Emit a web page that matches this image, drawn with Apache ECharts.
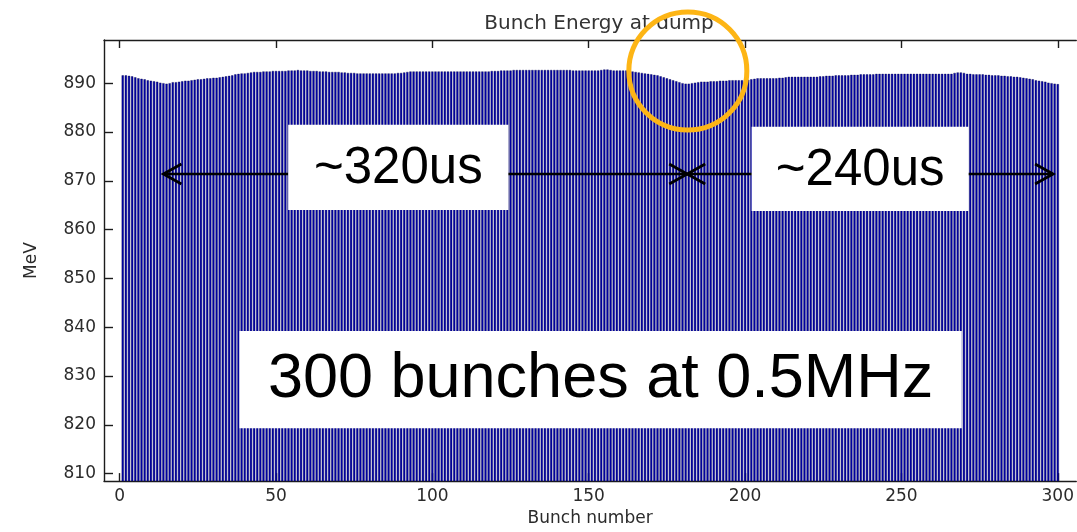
<!DOCTYPE html>
<html>
<head>
<meta charset="utf-8">
<script src="https://cdn.jsdelivr.net/npm/echarts@6/dist/echarts.min.js"></script>
<style>
  html, body { margin: 0; padding: 0; background: #ffffff; }
  #chart { width: 1077px; height: 532px; }
</style>
</head>
<body>
<div id="chart"></div>
<script>
// Bunch energy measured at the dump, one value per bunch (MeV)
const energyMeV = [
  891.6, 891.6, 891.5, 891.4, 891.2, 891.0, 890.9, 890.8, 890.6, 890.5,
  890.4, 890.3, 890.1, 890.0, 889.9, 890.0, 890.2, 890.2, 890.3, 890.4,
  890.5, 890.5, 890.6, 890.7, 890.8, 890.8, 890.9, 891.0, 891.0, 891.1,
  891.1, 891.2, 891.3, 891.4, 891.5, 891.6, 891.8, 891.9, 892.0, 892.0,
  892.1, 892.2, 892.3, 892.3, 892.3, 892.4, 892.4, 892.4, 892.5, 892.5,
  892.5, 892.5, 892.5, 892.6, 892.6, 892.6, 892.7, 892.6, 892.6, 892.6,
  892.5, 892.5, 892.5, 892.4, 892.4, 892.4, 892.3, 892.3, 892.3, 892.3,
  892.2, 892.2, 892.1, 892.1, 892.1, 892.0, 892.0, 892.0, 892.0, 892.0,
  892.0, 892.0, 892.0, 892.0, 892.0, 892.0, 892.0, 892.0, 892.1, 892.1,
  892.2, 892.3, 892.4, 892.4, 892.4, 892.4, 892.4, 892.4, 892.4, 892.4,
  892.4, 892.4, 892.4, 892.4, 892.4, 892.4, 892.4, 892.4, 892.4, 892.4,
  892.4, 892.4, 892.4, 892.4, 892.4, 892.4, 892.4, 892.4, 892.5, 892.5,
  892.5, 892.6, 892.6, 892.6, 892.6, 892.7, 892.7, 892.7, 892.7, 892.7,
  892.7, 892.7, 892.7, 892.7, 892.7, 892.7, 892.7, 892.7, 892.7, 892.7,
  892.7, 892.7, 892.7, 892.7, 892.6, 892.6, 892.6, 892.6, 892.6, 892.6,
  892.6, 892.6, 892.6, 892.7, 892.8, 892.8, 892.7, 892.6, 892.6, 892.6,
  892.6, 892.6, 892.5, 892.4, 892.3, 892.2, 892.1, 892.0, 891.9, 891.8,
  891.7, 891.6, 891.4, 891.2, 891.0, 890.8, 890.6, 890.4, 890.2, 890.0,
  889.9, 889.9, 890.0, 890.1, 890.2, 890.3, 890.3, 890.3, 890.4, 890.4,
  890.4, 890.5, 890.5, 890.5, 890.6, 890.6, 890.6, 890.6, 890.6, 890.6,
  890.7, 890.8, 890.9, 891.0, 891.0, 891.0, 891.0, 891.0, 891.0, 891.0,
  891.1, 891.1, 891.2, 891.3, 891.3, 891.3, 891.3, 891.3, 891.3, 891.3,
  891.3, 891.3, 891.3, 891.4, 891.4, 891.5, 891.5, 891.5, 891.6, 891.6,
  891.6, 891.6, 891.6, 891.7, 891.7, 891.7, 891.8, 891.8, 891.8, 891.8,
  891.8, 891.9, 891.9, 891.9, 891.9, 891.9, 891.9, 891.9, 891.9, 891.9,
  891.9, 891.9, 891.9, 891.9, 891.9, 891.9, 891.9, 891.9, 891.9, 891.9,
  891.9, 891.9, 891.9, 891.9, 891.9, 891.9, 892.1, 892.2, 892.2, 892.1,
  891.9, 891.9, 891.8, 891.8, 891.8, 891.8, 891.7, 891.7, 891.6, 891.6,
  891.6, 891.5, 891.5, 891.4, 891.4, 891.3, 891.3, 891.2, 891.1, 891.0,
  890.9, 890.8, 890.6, 890.5, 890.4, 890.3, 890.1, 890.0, 889.9, 889.8
];
// Bunch numbers 1..N
const bunchNumber = energyMeV.map((_, i) => i + 1);

const xTickValues = [0, 50, 100, 150, 200, 250, 300];
const yTickValues = [810, 820, 830, 840, 850, 860, 870, 880, 890];

const titleText = 'Bunch Energy at dump';
const xAxisName = 'Bunch number';
const yAxisName = 'MeV';

// Annotation texts
const spanLabels = ['~320us', '~240us'];
const noteText = '300 bunches at 0.5MHz';

const axisColor = '#1c1c1c';
const labelColor = '#2b2b2b';
const tickFont = 'DejaVu Sans';

const chart = echarts.init(document.getElementById('chart'), null, { renderer: 'canvas' });

const xAxisBase = {
  type: 'value', min: -5, max: 305.9,
  splitLine: { show: false },
  axisLine: { show: true, onZero: false, lineStyle: { color: axisColor, width: 1.4 } },
  axisTick: { show: true, inside: true, length: 8, customValues: xTickValues,
              lineStyle: { color: axisColor, width: 1.4 } }
};

chart.setOption({
  animation: false,
  backgroundColor: '#ffffff',
  title: {
    text: titleText, left: 594, top: 9, textAlign: 'center',
    textStyle: { fontFamily: tickFont, fontSize: 20, fontWeight: 'normal', color: '#333333' }
  },
  grid: { left: 104, top: 40, width: 976, height: 444, containLabel: false },
  xAxis: [
    Object.assign({}, xAxisBase, {
      position: 'bottom',
      name: xAxisName, nameLocation: 'middle', nameGap: 27,
      nameTextStyle: { fontFamily: tickFont, fontSize: 17, color: labelColor },
      axisLabel: { show: true, customValues: xTickValues, margin: 7,
                   fontFamily: tickFont, fontSize: 17, color: labelColor }
    }),
    Object.assign({}, xAxisBase, { position: 'top', axisLabel: { show: false } })
  ],
  yAxis: {
    type: 'value', min: 808.47, max: 898.85, position: 'left',
    splitLine: { show: false },
    axisLine: { show: true, onZero: false, lineStyle: { color: axisColor, width: 1.4 } },
    axisTick: { show: true, inside: true, length: 9, customValues: yTickValues,
                lineStyle: { color: axisColor, width: 1.4 } },
    name: yAxisName, nameLocation: 'middle', nameGap: 64,
    nameTextStyle: { fontFamily: tickFont, fontSize: 17, color: labelColor },
    axisLabel: { show: true, customValues: yTickValues, margin: 8,
                 fontFamily: tickFont, fontSize: 17, color: labelColor }
  },
  series: [{
    type: 'bar',
    xAxisIndex: 0, yAxisIndex: 0,
    data: bunchNumber.map((b, i) => [b, energyMeV[i]]),
    barWidth: 2.2,
    clip: true,
    silent: true,
    itemStyle: { color: '#0000a8', borderColor: '#0d0d50', borderWidth: 0.4 }
  }]
});

// Annotations placed in data coordinates (bunch number, MeV)
const spanLevel = 871.4;
const spans = [[14, 181.5], [181.5, 298.5]];
const spanBoxes = [
  { x: [53.9, 124.3], y: [864.0, 881.5] },
  { x: [202.1, 271.5], y: [863.8, 881.1] }
];
const noteBox = { x: [38.3, 269.3], y: [819.3, 839.2] };
const dipMarker = { center: [181.7, 892.5], radius: 59 };

const px = p => chart.convertToPixel({ gridIndex: 0 }, p);

function chevron(tip, dir) {
  // open arrow head pointing in dir (+1 right, -1 left)
  const len = 18, half = 10;
  return {
    type: 'polyline',
    shape: { points: [[tip[0] - dir * len, tip[1] - half], tip, [tip[0] - dir * len, tip[1] + half]] },
    style: { stroke: '#000000', lineWidth: 2.8, fill: null },
    z: 10
  };
}

const elements = [];
spans.forEach(([a, b]) => {
  const p1 = px([a, spanLevel]), p2 = px([b, spanLevel]);
  elements.push({
    type: 'line',
    shape: { x1: p1[0], y1: p1[1], x2: p2[0], y2: p2[1] },
    style: { stroke: '#000000', lineWidth: 2.6 }, z: 10
  });
  elements.push(chevron(p1, -1));
  elements.push(chevron(p2, 1));
});

function boxWithText(box, text, fontSize, dy) {
  const tl = px([box.x[0], box.y[1]]), br = px([box.x[1], box.y[0]]);
  const cx = (tl[0] + br[0]) / 2, cy = (tl[1] + br[1]) / 2;
  elements.push({
    type: 'rect', shape: { x: tl[0], y: tl[1], width: br[0] - tl[0], height: br[1] - tl[1] },
    style: { fill: '#ffffff' }, z: 20
  });
  elements.push({
    type: 'text', x: cx, y: cy + dy,
    style: { text: text, fontFamily: 'Liberation Sans', fontSize: fontSize, fill: '#000000',
             align: 'center', verticalAlign: 'middle' },
    z: 21
  });
}
boxWithText(spanBoxes[0], spanLabels[0], 51, 2);
boxWithText(spanBoxes[1], spanLabels[1], 51, 2);
boxWithText(noteBox, noteText, 63, 0);

const c = px(dipMarker.center);
elements.push({
  type: 'circle', shape: { cx: c[0], cy: c[1], r: dipMarker.radius },
  style: { stroke: '#FDB515', lineWidth: 5, fill: null }, z: 30
});

chart.setOption({ graphic: elements });
</script>
</body>
</html>
